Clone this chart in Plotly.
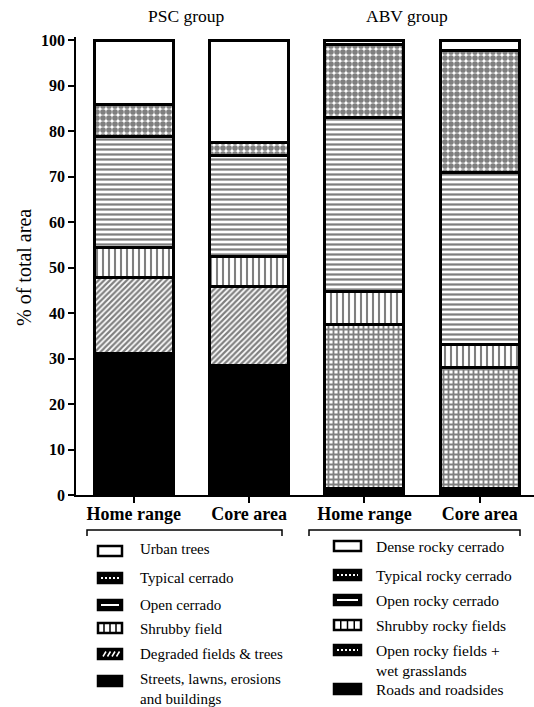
import plotly.graph_objects as go

# ---------------- data ----------------
psc_categories = ["Home range", "Core area"]
abv_categories = ["Home range", "Core area"]
tick_labels = psc_categories + abv_categories

psc_classes = ["Streets, lawns, erosions and buildings", "Degraded fields & trees",
               "Shrubby field", "Open cerrado", "Typical cerrado", "Urban trees"]
psc_values = {
    "Streets, lawns, erosions and buildings": [31.0, 28.4],
    "Degraded fields & trees": [16.7, 17.5],
    "Shrubby field": [6.8, 6.5],
    "Open cerrado": [24.4, 22.3],
    "Typical cerrado": [7.0, 2.7],
    "Urban trees": [14.1, 22.6],
}

abv_classes = ["Roads and roadsides", "Open rocky fields + wet grasslands",
               "Shrubby rocky fields", "Open rocky cerrado", "Typical rocky cerrado",
               "Dense rocky cerrado"]
abv_values = {
    "Roads and roadsides": [1.5, 1.5],
    "Open rocky fields + wet grasslands": [35.9, 26.5],
    "Shrubby rocky fields": [7.4, 5.0],
    "Open rocky cerrado": [38.2, 37.8],
    "Typical rocky cerrado": [16.1, 26.9],
    "Dense rocky cerrado": [0.9, 2.3],
}

y_ticks = list(range(0, 101, 10))

psc_legend = ["Urban trees", "Typical cerrado", "Open cerrado", "Shrubby field",
              "Degraded fields & trees", "Streets, lawns, erosions<br>and buildings"]
abv_legend = ["Dense rocky cerrado", "Typical rocky cerrado", "Open rocky cerrado",
              "Shrubby rocky fields", "Open rocky fields +<br>wet grasslands",
              "Roads and roadsides"]

# ---------------- styles ----------------
styles = ["black", "diag", "vlines", "hlines", "checker", "white"]
abv_styles = ["black", "brick", "vlines", "hlines", "checker", "white"]


def marker_for(style):
    base = dict(color="white", line=dict(color="black", width=3))
    if style == "black":
        base["color"] = "black"
    elif style == "white":
        pass
    elif style == "diag":
        base["pattern"] = dict(shape="/", fgcolor="black", bgcolor="white", size=4, solidity=0.55)
    elif style == "vlines":
        base["pattern"] = dict(shape="|", fgcolor="black", bgcolor="white", size=6, solidity=0.35)
    elif style == "hlines":
        base["pattern"] = dict(shape="-", fgcolor="black", bgcolor="white", size=5, solidity=0.45)
    elif style == "checker":
        base["pattern"] = dict(shape=".", fgcolor="black", bgcolor="white", size=6, solidity=0.7)
    elif style == "brick":
        base["pattern"] = dict(shape="+", fgcolor="black", bgcolor="white", size=5, solidity=0.6)
    return base


fig = go.Figure()
bar_w = 0.685
for cls, st in zip(psc_classes, styles):
    fig.add_trace(go.Bar(x=[0, 1], y=psc_values[cls], name=cls, width=bar_w,
                         marker=marker_for(st), showlegend=False))
for cls, st in zip(abv_classes, abv_styles):
    fig.add_trace(go.Bar(x=[2, 3], y=abv_values[cls], name=cls, width=bar_w,
                         marker=marker_for(st), showlegend=False))

# ---------------- layout geometry ----------------
W, H = 534, 707
L, T, PW, PH = 76, 37, 458, 458
B = H - T - PH
Y0 = T + PH  # pixel of y=0


def px(xp):
    return (xp - L) / PW


def py(yp):
    return (Y0 - yp) / PH


serif = "Liberation Serif"

fig.update_layout(
    width=W, height=H, margin=dict(l=L, r=W - L - PW, t=T, b=B),
    barmode="stack", plot_bgcolor="white", paper_bgcolor="white",
    showlegend=False,
    xaxis=dict(range=[-0.5, 3.47], tickvals=[0, 1, 2, 3], ticktext=tick_labels,
               showline=True, linecolor="black", linewidth=1.5, ticks="outside",
               ticklen=6, tickwidth=1.5, tickcolor="black", showgrid=False, zeroline=False,
               ticklabelstandoff=-4,
               tickfont=dict(family=serif, size=18, color="black", weight="bold")),
    yaxis=dict(range=[0, 100 * (PH) / (Y0 - 40)], tickvals=y_ticks, showline=True,
               linecolor="black", linewidth=1.5, ticks="outside", ticklen=6, tickwidth=1.5,
               tickcolor="black", showgrid=False, zeroline=False,
               tickfont=dict(family=serif, size=16, color="black", weight="bold")),
)

ann = []
ann.append(dict(text="% of total area", x=px(24), y=py(268), xref="paper", yref="paper",
                xanchor="center", yanchor="middle",
                textangle=-90, showarrow=False, font=dict(family=serif, size=20, color="black")))
ann.append(dict(text="PSC group", x=px(186), y=py(16), xref="paper", yref="paper",
                xanchor="center", yanchor="middle",
                showarrow=False, font=dict(family=serif, size=17.5, color="black")))
ann.append(dict(text="ABV group", x=px(407), y=py(16), xref="paper", yref="paper",
                xanchor="center", yanchor="middle",
                showarrow=False, font=dict(family=serif, size=17.5, color="black")))

shapes = []
# brackets
for x0, x1 in [(87, 282), (309, 520)]:
    shapes.append(dict(type="path", xref="paper", yref="paper",
                       path=f"M {px(x0)},{py(536)} L {px(x0)},{py(530)} L {px(x1)},{py(530)} L {px(x1)},{py(536)}",
                       line=dict(color="black", width=1.5)))


def swatch(x0, x1, yc, style):
    h = 10
    y0, y1 = yc - h / 2, yc + h / 2
    fill = "white" if style in ("white", "vlines") else "black"
    shapes.append(dict(type="rect", xref="paper", yref="paper", x0=px(x0), x1=px(x1),
                       y0=py(y0), y1=py(y1), fillcolor=fill, line=dict(color="black", width=2.5)))
    if style == "hlines":
        shapes.append(dict(type="line", xref="paper", yref="paper", x0=px(x0 + 3), x1=px(x1 - 3),
                           y0=py(yc), y1=py(yc), line=dict(color="white", width=2)))
    elif style in ("checker", "brick"):
        shapes.append(dict(type="line", xref="paper", yref="paper", x0=px(x0 + 3), x1=px(x1 - 3),
                           y0=py(yc), y1=py(yc), line=dict(color="white", width=2, dash="2px,2px")))
    elif style == "vlines":
        n = 4
        for i in range(1, n):
            xx = x0 + (x1 - x0) * i / n
            shapes.append(dict(type="line", xref="paper", yref="paper", x0=px(xx), x1=px(xx),
                               y0=py(y0), y1=py(y1), line=dict(color="black", width=1.5)))
    elif style == "diag":
        for i in range(4):
            xa = x0 + 5 + i * 4.5
            shapes.append(dict(type="line", xref="paper", yref="paper", x0=px(xa), x1=px(xa + 3),
                               y0=py(yc + 2.5), y1=py(yc - 2.5), line=dict(color="white", width=1.5)))


left_styles = ["white", "checker", "hlines", "vlines", "diag", "black"]
left_sw_y = [551, 578, 605, 628, 654, 681]
left_txt_y = [549, 578, 605, 629, 654, 689]
for name, st, sy, ty in zip(psc_legend, left_styles, left_sw_y, left_txt_y):
    swatch(98, 122, sy, st)
    ann.append(dict(text=name, x=px(138), y=py(ty), xref="paper", yref="paper", xanchor="left",
                    yanchor="middle", align="left", showarrow=False,
                    font=dict(family=serif, size=15, color="black")))

right_styles = ["white", "checker", "hlines", "vlines", "brick", "black"]
right_sw_y = [546, 575, 600, 625, 650, 689]
right_txt_y = [546, 575, 600, 625, 660, 689]
for name, st, sy, ty in zip(abv_legend, right_styles, right_sw_y, right_txt_y):
    swatch(334, 361, sy, st)
    ann.append(dict(text=name, x=px(374), y=py(ty), xref="paper", yref="paper", xanchor="left",
                    yanchor="middle", align="left", showarrow=False,
                    font=dict(family=serif, size=15.5, color="black")))

fig.update_layout(annotations=ann, shapes=shapes)
fig.write_html("out.html", config={"displayModeBar": False},
               post_script="document.body.style.margin='0';document.body.style.overflow='hidden';")
